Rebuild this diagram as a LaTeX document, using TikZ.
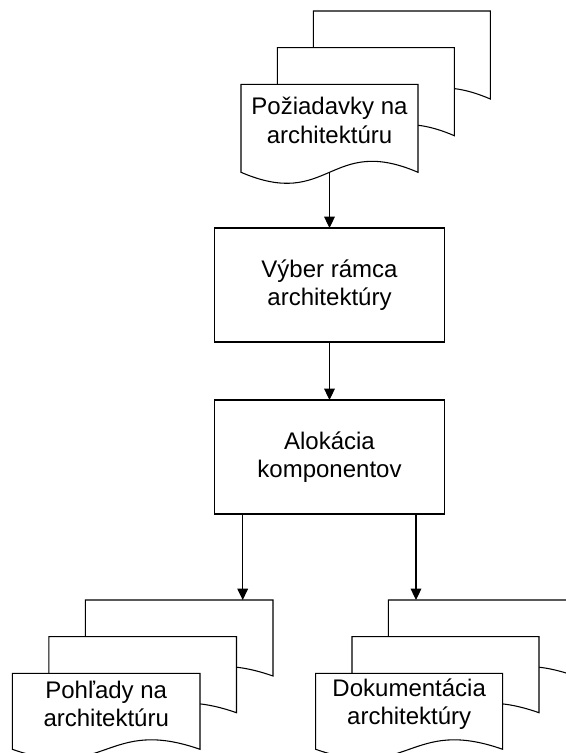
\documentclass[tikz,border=0pt]{standalone}
\usepackage{fontspec}
\setmainfont{Liberation Sans}
\usetikzlibrary{arrows.meta}

\tikzset{
  page/.style={draw=black, fill=white, line width=0.8pt, line join=miter},
  procbox/.style={draw=black, fill=white, line width=0.8pt, rectangle,
    minimum width=172.5pt, minimum height=85.5pt, inner sep=0pt, outer sep=0pt,
    align=center, font=\fontsize{18pt}{21.5pt}\selectfont},
  doctext/.style={inner sep=0pt, align=center, font=\fontsize{18pt}{21.5pt}\selectfont},
  flow/.style={line width=0.8pt, -{Triangle[length=8.5pt,width=8pt]}}
}

% one sheet of a document stack: left, top, width, height (wavy lower edge)
\newcommand\docsheet[4]{%
  \filldraw[page] (#1,#2) -- ({#1+#3},#2) -- ({#1+#3},{#2+#4})
    .. controls ({#1+0.5*#3},{#2+0.567*#4}) and ({#1+0.5*#3},{#2+1.433*#4})
    .. (#1,{#2+#4}) -- cycle;}

\begin{document}
\begin{tikzpicture}[x=0.75pt, y=-0.75pt]
  \useasboundingbox (0,0) rectangle (566,753);
  \fill[white] (0,0) rectangle (566,753);
  \clip (0,0) rectangle (566,753);

  % requirements (document stack)
  \docsheet{313.3}{11}{177}{88}
  \docsheet{277.3}{47.7}{177}{88}
  \docsheet{241}{84.3}{177}{88}
  \node[doctext] (req) at (329.5,120.3) {Požiadavky na\\architektúru};
  \coordinate (req-out) at (329.5,172.3);

  % process steps
  \node[procbox] (frame) at (329.5,285) {Výber rámca\\architektúry};
  \node[procbox] (alloc) at (329.5,457) {Alokácia\\komponentov};

  % views (document stack)
  \docsheet{85.3}{600}{187.7}{76}
  \docsheet{48.8}{636.7}{187.7}{76}
  \docsheet{12.3}{673.3}{187.7}{76}
  \node[doctext] (views) at (106.2,704) {Pohľady na\\architektúru};
  \coordinate (views-in) at (242.7,600);

  % documentation (document stack)
  \docsheet{388.3}{600}{187}{76}
  \docsheet{352}{636.7}{187}{76}
  \docsheet{315.7}{673.3}{187}{76}
  \node[doctext] (docs) at (409.2,704) {Dokumentácia\\architektúry};
  \coordinate (docs-in) at (416,600);

  % connectors
  \draw[flow] (req-out) -- (frame.north);
  \draw[flow] (frame.south) -- (alloc.north);
  \draw[flow] (alloc.south -| views-in) -- (views-in);
  \draw[flow] (alloc.south -| docs-in) -- (docs-in);
\end{tikzpicture}
\end{document}
